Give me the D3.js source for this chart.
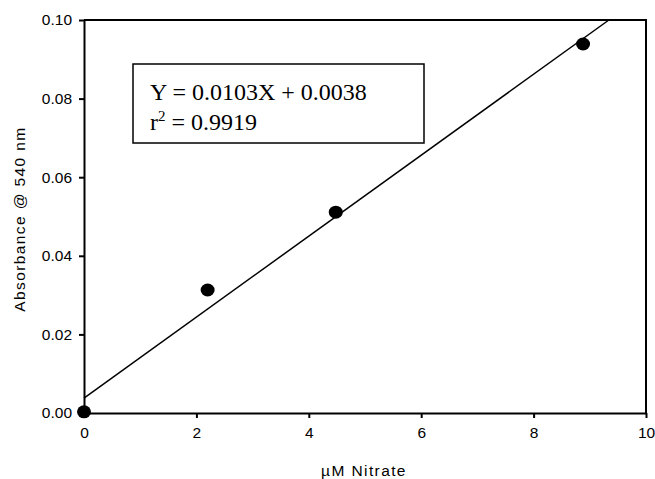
<!DOCTYPE html>
<html><head><meta charset="utf-8">
<script src="https://cdn.jsdelivr.net/npm/d3@7"></script>
<style>body{margin:0;background:#fff}</style>
</head><body>
<svg id="c" width="655" height="479"></svg>
<script>
const xVals = [0, 2.2, 4.48, 8.88];
const yVals = [0.0003, 0.0313, 0.0511, 0.0939];
const xTicks = [0, 2, 4, 6, 8, 10];
const yTicks = [0, 0.02, 0.04, 0.06, 0.08, 0.10];
const slope = 0.0103, intercept = 0.0038;
const eqLines = ["Y = 0.0103X + 0.0038", "0.9919"];

const svg = d3.select("#c");
const L = 84, R = 646, T = 20, B = 413;
const sans = "Liberation Sans, Arial, sans-serif";
const x = d3.scaleLinear().domain([0, 10]).range([L, R]);
const y = d3.scaleLinear().domain([0, 0.10]).range([B, T]);

const xa = svg.append("g").attr("transform", `translate(0,${B})`)
  .call(d3.axisBottom(x).tickValues(xTicks).tickFormat(d3.format("d")).tickSize(5).tickSizeOuter(0).tickPadding(9));
const ya = svg.append("g").attr("transform", `translate(${L},0)`)
  .call(d3.axisLeft(y).tickValues(yTicks).tickFormat(d3.format(".2f")).tickSize(5).tickSizeOuter(0).tickPadding(7));
[xa, ya].forEach(g => {
  g.selectAll("text").attr("font-family", sans).attr("font-size", 15.5).attr("fill", "#000");
  g.selectAll("line").attr("stroke", "#000").attr("stroke-width", 2);
  g.select(".domain").attr("stroke", "#000").attr("stroke-width", 2);
});
// frame top/right
svg.append("path").attr("d", `M${L},${T}H${R}V${B}`).attr("fill", "none").attr("stroke", "#000").attr("stroke-width", 2);

// regression line
const xEnd = (0.10 - intercept) / slope;
svg.append("line")
  .attr("x1", x(0)).attr("y1", y(intercept))
  .attr("x2", x(xEnd)).attr("y2", y(0.10))
  .attr("stroke", "#000").attr("stroke-width", 1.5);

// points
svg.selectAll("ellipse.pt").data(xVals).enter().append("ellipse")
  .attr("class", "pt")
  .attr("cx", (d) => x(d)).attr("cy", (d, i) => y(yVals[i]))
  .attr("rx", 7).attr("ry", 6.5).attr("fill", "#000");

// equation box
svg.append("rect").attr("x", 133).attr("y", 64).attr("width", 291).attr("height", 79)
  .attr("fill", "#fff").attr("stroke", "#000").attr("stroke-width", 1.5);
const tf = "Liberation Serif, Times New Roman, serif";
svg.append("text").attr("x", 150).attr("y", 99.5).attr("font-family", tf).attr("font-size", 24)
  .text(eqLines[0]);
const t2 = svg.append("text").attr("x", 150).attr("y", 129.5).attr("font-family", tf).attr("font-size", 24);
t2.append("tspan").text("r");
t2.append("tspan").attr("dy", -9).attr("font-size", 15).text("2");
t2.append("tspan").attr("dy", 9).text(" = " + eqLines[1]);

// axis titles
svg.append("text").attr("x", 364).attr("y", 476).attr("text-anchor", "middle")
  .attr("font-family", sans).attr("font-size", 15.5).attr("letter-spacing", 1.4).text("µM Nitrate");
svg.append("text").attr("transform", `translate(25,219) rotate(-90)`).attr("text-anchor", "middle")
  .attr("font-family", sans).attr("font-size", 15.5).attr("letter-spacing", 1.4).text("Absorbance @ 540 nm");
</script>
</body></html>
